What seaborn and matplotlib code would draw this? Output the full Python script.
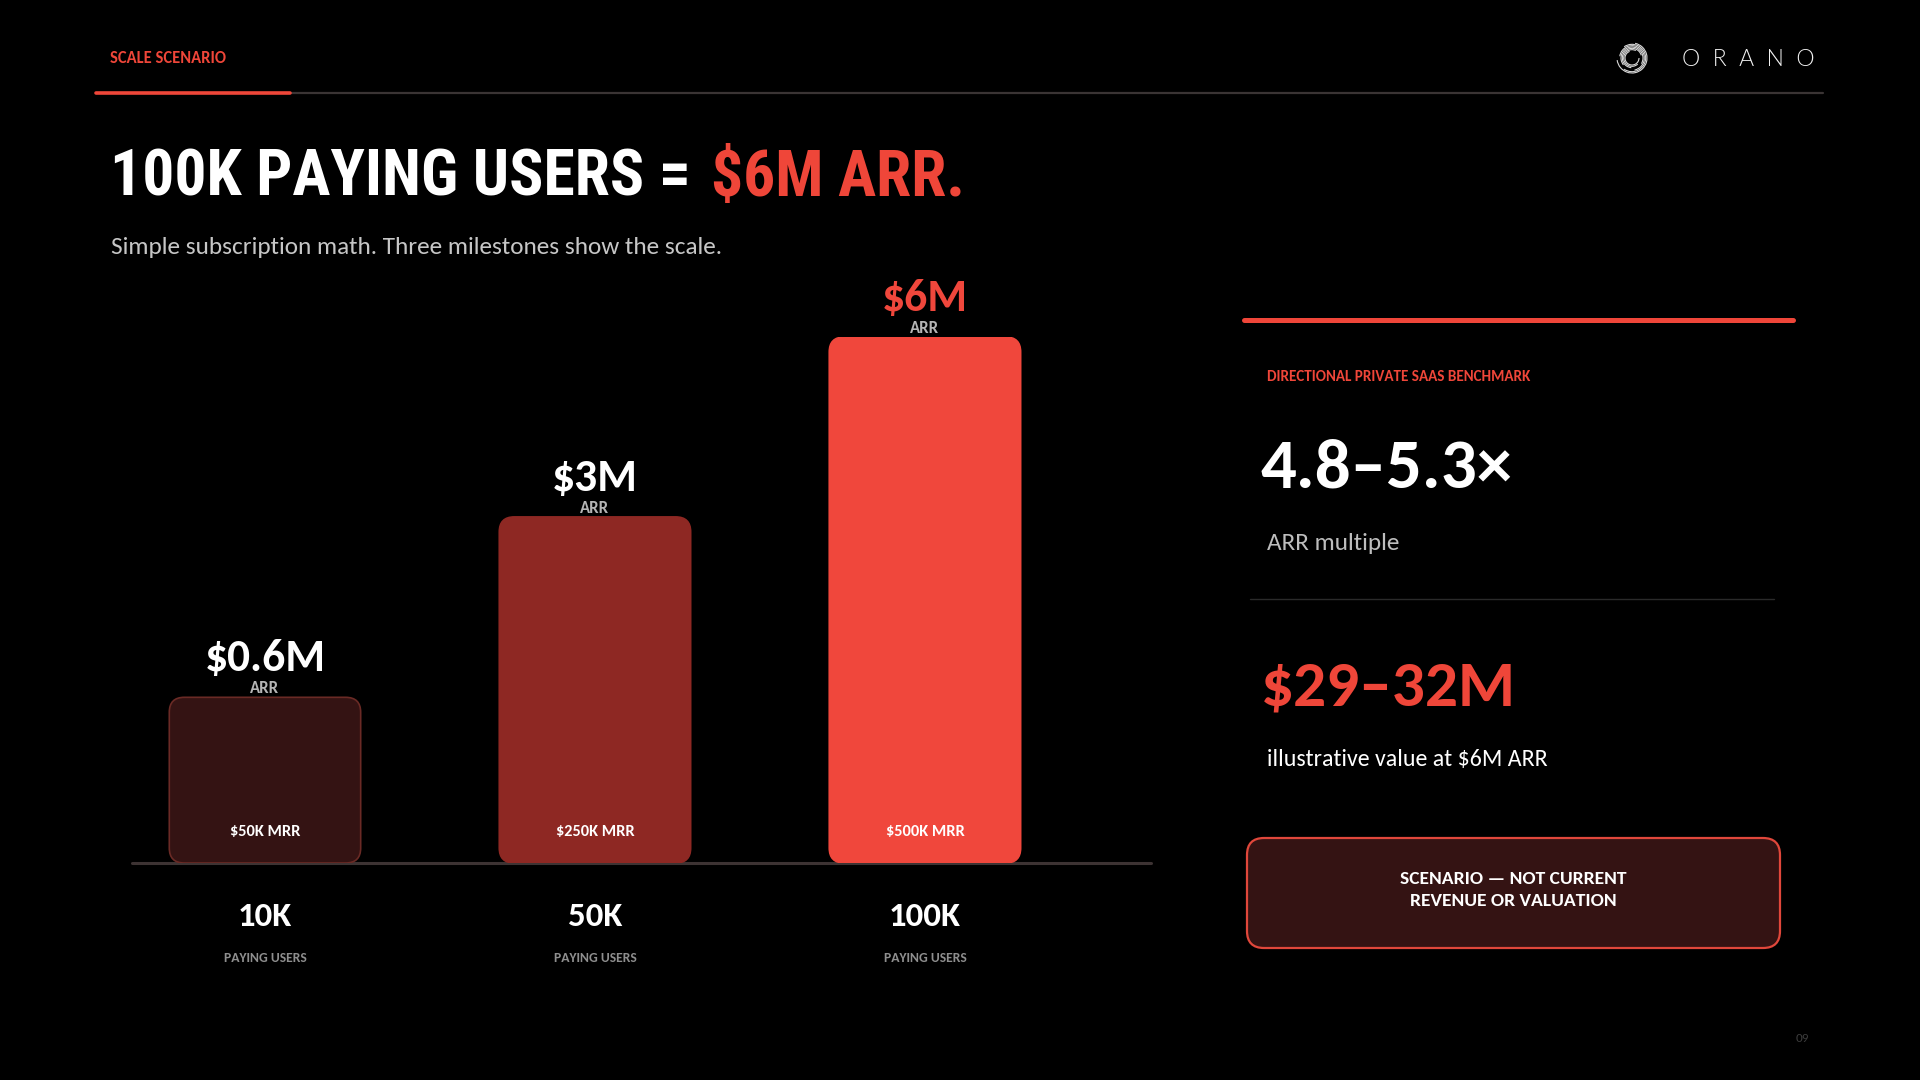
import os
import numpy as np
import pandas as pd
import matplotlib
matplotlib.use("Agg")
import matplotlib.pyplot as plt
import seaborn as sns
from matplotlib import font_manager
from matplotlib.font_manager import FontProperties
from matplotlib.patches import FancyBboxPatch, Arc
from matplotlib.lines import Line2D
from matplotlib.transforms import offset_copy

# ---------------- data ----------------
users = ["10K", "50K", "100K"]
users_caption = "PAYING USERS"
arr_labels = ["$0.6M", "$3M", "$6M"]
mrr_labels = ["$50K MRR", "$250K MRR", "$500K MRR"]
bar_height_pct = [31.5, 65.8, 100.0]          # visual bar heights
bar_colors = ["#341313", "#8e2823", "#f0473c"]
bar_edges = ["#6a2a25", "#8e2823", "#f0473c"]
arr_label_colors = ["#ffffff", "#ffffff", "#f0473c"]

header_label = "SCALE SCENARIO"
title_white = "100K PAYING USERS ="
title_red = "$6M ARR."
subtitle = "Simple subscription math. Three milestones show the scale."
bench_label = "DIRECTIONAL PRIVATE SAAS BENCHMARK"
multiple_value = "4.8–5.3×"
multiple_caption = "ARR multiple"
value_range = "$29–32M"
value_caption = "illustrative value at $6M ARR"
disclaimer = "SCENARIO — NOT CURRENT\nREVENUE OR VALUATION"
page_no = "09"

RED = "#ef4639"

# ---------------- fonts ----------------
def find_font(names):
    files = {os.path.splitext(os.path.basename(f.fname))[0].lower(): f.fname
             for f in font_manager.fontManager.ttflist}
    for n in names:
        if n.lower() in files:
            return files[n.lower()]
    return None

def fp(names, fallback_weight, size):
    path = find_font(names)
    if path:
        return FontProperties(fname=path, size=size)
    return FontProperties(family="DejaVu Sans", weight=fallback_weight, size=size)

BOLD = ["Carlito-Bold", "Lato-Bold", "OpenSans-Bold", "NotoSans-Bold", "DejaVuSans-Bold"]
REG = ["Carlito-Regular", "Lato-Regular", "OpenSans-Regular", "NotoSans-Regular", "DejaVuSans"]
LIGHT = ["Lato-Light", "Roboto-Light", "OpenSans-Light", "Lato-Regular", "DejaVuSans"]
COND = ["RobotoCondensed-Bold", "NotoSans-CondensedBold", "LiberationSansNarrow-Bold",
        "DejaVuSansCondensed-Bold", "Lato-Bold"]

def B(s): return fp(BOLD, "bold", s)
def R(s): return fp(REG, "normal", s)

# ---------------- figure ----------------
sns.set_theme(style="dark", rc={"axes.facecolor": "black", "figure.facecolor": "black"})
W, H = 1920, 1080
fig = plt.figure(figsize=(19.2, 10.8), dpi=100, facecolor="black")

# overlay axes in pixel coordinates (y down)
ov = fig.add_axes([0, 0, 1, 1])
ov.set_xlim(0, W)
ov.set_ylim(H, 0)
ov.axis("off")
ov.set_facecolor("none")

# header rule
ov.add_line(Line2D([96, 1823], [93, 93], color="#3a3434", lw=1.6))
ov.add_line(Line2D([96, 290], [93, 93], color=RED, lw=2.6))
ov.text(110, 58, header_label, color=RED, fontproperties=B(11.9), va="center", ha="left")

# logo
cx, cy = 1632, 58
for i, r in enumerate(np.linspace(7, 15, 7)):
    ov.add_patch(Arc((cx, cy), 2 * r, 2 * r, theta1=i * 47, theta2=i * 47 + 250,
                     color="#d8d8d8", lw=0.8))
ov.text(1748, 59, "O  R  A  N  O", color="#f2f2f2", fontproperties=fp(LIGHT, "light", 16.5),
        va="center", ha="center")

# title
t1 = ov.text(110, 196, title_white, color="white", fontproperties=fp(COND, "bold", 45.8),
             va="baseline", ha="left")
fig.canvas.draw()
bb = t1.get_window_extent(fig.canvas.get_renderer())
x_end = ov.transData.inverted().transform((bb.x1, bb.y0))[0]
ov.text(x_end + 20, 196, title_red, color=RED, fontproperties=fp(COND, "bold", 45.8),
        va="baseline", ha="left")

ov.text(111, 247, subtitle, color="#c6c6c6", fontproperties=R(18.2), va="center", ha="left")

# ---------------- bar chart ----------------
ax_l, ax_r, ax_b, ax_t = 132, 1151, 863, 337
ax = fig.add_axes([ax_l / W, 1 - ax_b / H, (ax_r - ax_l) / W, (ax_b - ax_t) / H])
df = pd.DataFrame({"users": users, "height": bar_height_pct})
sns.barplot(data=df, x="users", y="height", hue="users", palette=bar_colors,
            legend=False, width=0.58, saturation=1, ax=ax)
ax.set_xlim(-0.403, 2.685)
ax.set_ylim(0, 100)
ax.set_facecolor("none")
ax.axis("off")

ax_wpx, ax_hpx = ax_r - ax_l, ax_b - ax_t
ux = (2.685 + 0.403) / ax_wpx      # x units per px
uy = 100 / ax_hpx                 # y units per px
r_px = 15
for i, p in enumerate(list(ax.patches)):
    x, y, w, h = p.get_x(), p.get_y(), p.get_width(), p.get_height()
    fc = p.get_facecolor()
    p.remove()
    ax.add_patch(FancyBboxPatch((x, y), w, h,
                                boxstyle=f"round,pad=0,rounding_size={r_px * ux}",
                                mutation_aspect=uy / ux, fc=fc, ec=bar_edges[i], lw=1.2,
                                zorder=2))

ax.axhline(0, color="#3d3333", lw=2.2, zorder=1, clip_on=False)

def off(dy):
    return offset_copy(ax.transData, fig=fig, x=0, y=dy, units="dots")

for i in range(len(users)):
    top = bar_height_pct[i]
    ax.text(i, top, arr_labels[i], transform=off(39), color=arr_label_colors[i],
            fontproperties=B(32.8), ha="center", va="center", clip_on=False)
    ax.text(i, top, "ARR", transform=off(9), color="#b5b5b5",
            fontproperties=B(12), ha="center", va="center", clip_on=False)
    ax.text(i, 0, mrr_labels[i], transform=off(31), color="white",
            fontproperties=B(11.8), ha="center", va="center", zorder=3)
    ax.text(i, 0, users[i], transform=off(-54), color="white",
            fontproperties=B(25), ha="center", va="center", clip_on=False)
    ax.text(i, 0, users_caption, transform=off(-95), color="#8e8e8e",
            fontproperties=B(9.8), ha="center", va="center", clip_on=False)

# ---------------- right panel ----------------
ov.add_line(Line2D([1244, 1793], [320, 320], color=RED, lw=3.6))
ov.text(1267, 377, bench_label, color=RED, fontproperties=B(10.9), va="center", ha="left")
ov.text(1261, 468, multiple_value, color="white", fontproperties=B(51), va="center", ha="left")
ov.text(1267, 543, multiple_caption, color="#bdbdbd", fontproperties=R(18.2), va="center", ha="left")
ov.add_line(Line2D([1250, 1774], [599, 599], color="#2a2a2a", lw=1.0))
ov.text(1261, 688, value_range, color=RED, fontproperties=B(47), va="center", ha="left")
ov.text(1267, 760, value_caption, color="white", fontproperties=R(17.2), va="center", ha="left")

ov.add_patch(FancyBboxPatch((1247, 838), 533, 110, boxstyle="round,pad=0,rounding_size=17",
                            fc="#341313", ec="#e0473b", lw=1.6))
ov.text(1513, 890, disclaimer, color="white", fontproperties=B(14), va="center", ha="center",
        multialignment="center", linespacing=1.45)

ov.text(1802, 1038, page_no, color="#3c3c3c", fontproperties=R(9.5), va="center", ha="center")

fig.savefig("out.png", dpi=100, facecolor="black")
